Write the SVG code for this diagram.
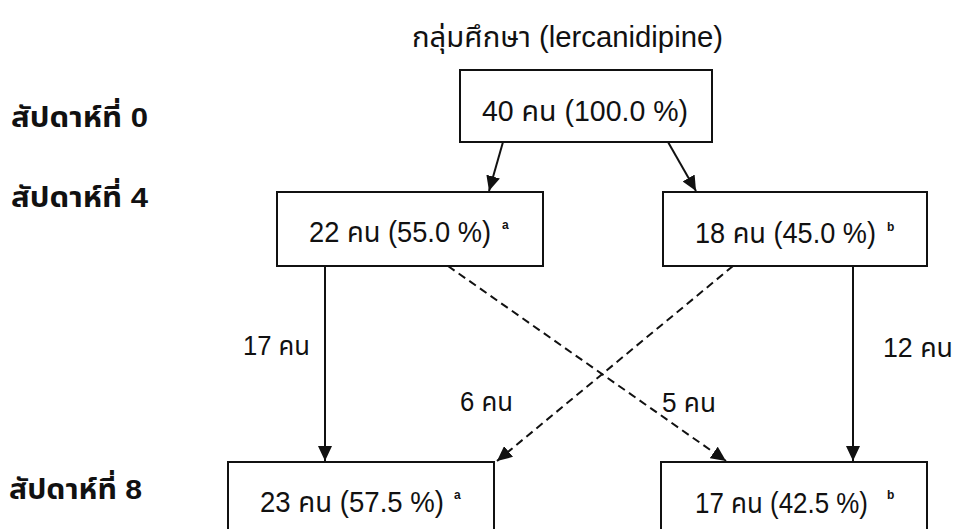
<svg xmlns="http://www.w3.org/2000/svg" width="955" height="529" viewBox="0 0 955 529">
<defs>
<style>
text{font-family:"Liberation Sans","Noto Sans Thai","Noto Sans",sans-serif;fill:#111;}
.t{font-size:29px;}
.lbl{font-size:27px;}
.wk{font-size:28px;font-weight:bold;}
.sup{font-size:12px;font-weight:bold;}
.box{fill:#fff;stroke:#111;stroke-width:2;}
.ln{stroke:#111;stroke-width:2;fill:none;}
.dash{stroke-dasharray:8 5;}
</style>
<marker id="ah" markerUnits="userSpaceOnUse" markerWidth="16" markerHeight="14" refX="15" refY="7" orient="auto">
<path d="M0,0 L15,7 L0,14 z" fill="#111"/>
</marker>
</defs>
<rect width="955" height="529" fill="#fff"/>
<text class="t" x="412" y="47" textLength="311" lengthAdjust="spacingAndGlyphs">กลุ่มศึกษา (lercanidipine)</text>
<g id="weeks">
<text class="wk" x="11" y="127" textLength="137" lengthAdjust="spacingAndGlyphs">สัปดาห์ที่ 0</text>
<text class="wk" x="11" y="207" textLength="137" lengthAdjust="spacingAndGlyphs">สัปดาห์ที่ 4</text>
<text class="wk" x="9" y="499" textLength="133" lengthAdjust="spacingAndGlyphs">สัปดาห์ที่ 8</text>
</g>
<g id="connectors">
<line class="ln" x1="503" y1="142" x2="489" y2="191" marker-end="url(#ah)"/>
<line class="ln" x1="668" y1="142" x2="696" y2="191" marker-end="url(#ah)"/>
<line class="ln" x1="325" y1="266" x2="325" y2="461" marker-end="url(#ah)"/>
<line class="ln" x1="853" y1="266" x2="853" y2="461" marker-end="url(#ah)"/>
<line class="ln dash" x1="448" y1="266" x2="726" y2="461" marker-end="url(#ah)"/>
<line class="ln dash" x1="733" y1="266" x2="497" y2="461" marker-end="url(#ah)"/>
<text class="lbl" x="243" y="355" textLength="67" lengthAdjust="spacingAndGlyphs">17 คน</text>
<text class="lbl" x="460" y="411" textLength="53" lengthAdjust="spacingAndGlyphs">6 คน</text>
<text class="lbl" x="662" y="412" textLength="54" lengthAdjust="spacingAndGlyphs">5 คน</text>
<text class="lbl" x="883" y="357" textLength="70" lengthAdjust="spacingAndGlyphs">12 คน</text>
</g>
<g id="n0">
<rect class="box" x="460" y="70" width="252" height="72"/>
<text class="t" x="482" y="121" textLength="206" lengthAdjust="spacingAndGlyphs">40 คน (100.0 %)</text>
</g>
<g id="n4a">
<rect class="box" x="277" y="192" width="266" height="74"/>
<text class="t" x="309" y="242"><tspan textLength="182" lengthAdjust="spacingAndGlyphs">22 คน (55.0 %)</tspan><tspan class="sup" x="502" y="229">a</tspan></text>
</g>
<g id="n4b">
<rect class="box" x="663" y="192" width="264" height="74"/>
<text class="t" x="695" y="243"><tspan textLength="181" lengthAdjust="spacingAndGlyphs">18 คน (45.0 %)</tspan><tspan class="sup" x="887" y="231">b</tspan></text>
</g>
<g id="n8a">
<rect class="box" x="228" y="462" width="266" height="80"/>
<text class="t" x="260" y="512"><tspan textLength="184" lengthAdjust="spacingAndGlyphs">23 คน (57.5 %)</tspan><tspan class="sup" x="454" y="499">a</tspan></text>
</g>
<g id="n8b">
<rect class="box" x="661" y="462" width="266" height="80"/>
<text class="t" x="695" y="513"><tspan textLength="173" lengthAdjust="spacingAndGlyphs">17 คน (42.5 %)</tspan><tspan class="sup" x="887" y="499">b</tspan></text>
</g>
</svg>
